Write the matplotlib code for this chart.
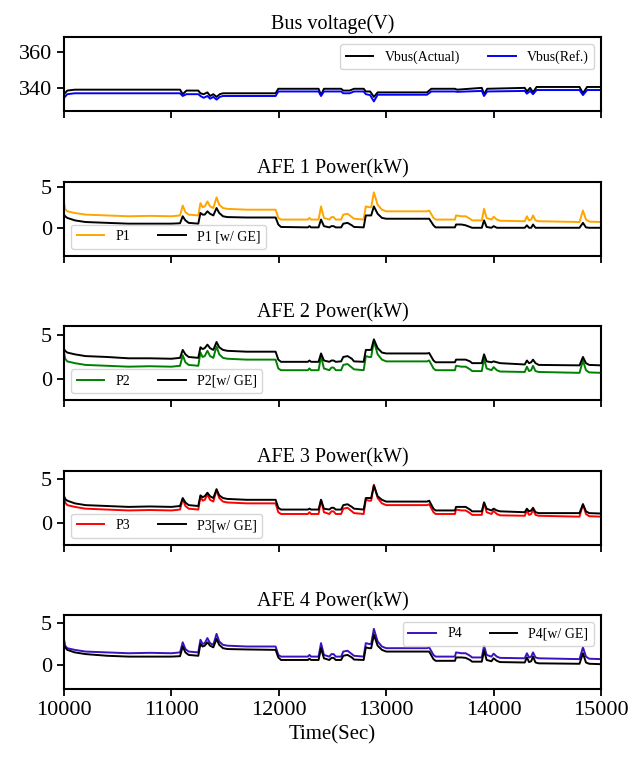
import matplotlib
matplotlib.use("Agg")
import matplotlib.pyplot as plt

plt.rcParams['font.family'] = ['Liberation Serif', 'DejaVu Serif']

# ---------------- data ----------------
tv = [10000, 10030, 10100, 10400, 11000, 11080, 11105, 11140, 11250, 11270,
      11300, 11335, 11360, 11390, 11420, 11450, 11480, 11970, 11995, 12370,
      12393, 12420, 12580, 12600, 12660, 12700, 12790, 12810, 12850, 12885,
      12920, 13380, 13420, 13640, 13660, 13890, 13911, 13940, 14290, 14310,
      14340, 14367, 14400, 14800, 14832, 14870, 15000]
vbus_actual = [336.5, 338.5, 339, 339, 339, 339, 336.5, 338.5, 338.5, 337,
               336.5, 337.5, 335.5, 336.5, 335, 336.5, 337, 337, 339.5, 339.5,
               336, 339.5, 339.5, 338.5, 338.5, 339.5, 339.5, 338, 338, 335,
               337.5, 337.5, 339.5, 339.5, 339, 340, 336.5, 339.5, 340, 338,
               340, 337.5, 340.5, 340.5, 337, 340.5, 340.5]
vbus_ref = [334.5, 336.5, 337, 337, 337, 337, 335.5, 336.5, 336.5, 335.5,
            334.5, 335.5, 334, 335, 333.5, 335, 335.5, 335.5, 338, 338,
            335.5, 338, 338, 337, 337, 338, 338, 336.5, 336, 332.5,
            336.2, 336.2, 338, 338, 337.8, 338.3, 335.5, 338, 338.3, 336.8,
            338.3, 336.5, 338.8, 338.8, 336, 338.8, 338.8]

t_pts = [10000, 10010, 10030, 10100, 10200, 10400, 10600, 10800, 11000, 11080,
         11105, 11130, 11160, 11250, 11270, 11290, 11310, 11335, 11360, 11390,
         11420, 11445, 11480, 11520, 11700, 11970, 11995, 12020, 12270, 12285,
         12300, 12370, 12393, 12420, 12470, 12490, 12510, 12530, 12580, 12600,
         12640, 12680, 12700, 12790, 12810, 12840, 12860, 12885, 12920, 12960,
         13000, 13380, 13400, 13440, 13460, 13640, 13650, 13700, 13740, 13780,
         13800, 13890, 13911, 13935, 13980, 14000, 14030, 14060, 14290, 14310,
         14330, 14350, 14367, 14390, 14420, 14800, 14832, 14860, 14890, 15000]

p_load = [3.0, 2.3, 2.0, 1.8, 1.6, 1.5, 1.4, 1.45, 1.4, 1.5,
          2.7, 1.9, 1.6, 1.5, 3.0, 2.5, 2.6, 3.2, 2.6, 2.4,
          3.7, 2.8, 2.4, 2.3, 2.2, 2.2, 1.2, 1.0, 1.0, 1.2,
          1.0, 1.0, 2.6, 1.2, 1.0, 1.3, 1.3, 1.0, 1.0, 1.6,
          1.7, 1.3, 1.1, 1.0, 2.6, 2.5, 2.5, 4.3, 2.8, 2.2,
          2.0, 2.0, 2.1, 1.2, 1.0, 1.0, 1.5, 1.4, 1.4, 1.1,
          0.9, 0.9, 2.3, 1.2, 1.0, 1.35, 1.0, 0.85, 0.8, 1.4,
          0.9, 1.0, 1.5, 0.9, 0.8, 0.7, 2.1, 1.0, 0.75, 0.7]

p1_ge = [1.6, 1.4, 1.2, 0.9, 0.7, 0.6, 0.5, 0.5, 0.5, 0.55,
         1.4, 0.9, 0.6, 0.5, 1.8, 1.6, 1.6, 2.0, 1.7, 1.5,
         2.4, 1.8, 1.4, 1.3, 1.25, 1.25, 0.4, 0.1, 0.05, 0.2,
         0.05, 0.05, 1.0, 0.2, 0.05, 0.2, 0.2, 0.05, 0.05, 0.5,
         0.6, 0.3, 0.1, 0.05, 1.5, 1.5, 1.5, 2.6, 1.7, 1.2,
         1.1, 1.1, 1.1, 0.3, 0.05, 0.05, 0.4, 0.4, 0.3, 0.1,
         0.0, 0.0, 0.9, 0.1, 0.0, 0.2, 0.0, 0.0, 0.0, 0.3,
         0.0, 0.0, 0.4, 0.0, 0.0, 0.0, 0.6, 0.05, 0.0, 0.0]

p2_ge = [3.4, 3.2, 3.0, 2.8, 2.6, 2.5, 2.35, 2.35, 2.3, 2.4,
         3.3, 2.8, 2.5, 2.4, 3.6, 3.4, 3.5, 3.9, 3.5, 3.3,
         4.2, 3.6, 3.3, 3.2, 3.1, 3.1, 2.2, 1.95, 1.95, 2.1,
         1.95, 1.95, 2.9, 2.1, 1.95, 2.1, 2.1, 1.95, 2.0, 2.5,
         2.6, 2.3, 2.0, 1.95, 3.3, 3.3, 3.3, 4.5, 3.5, 3.0,
         2.9, 2.9, 2.95, 2.1, 1.9, 1.9, 2.2, 2.2, 2.2, 2.0,
         1.8, 1.8, 2.8, 2.0, 1.9, 2.0, 1.9, 1.8, 1.65, 2.1,
         1.8, 1.9, 2.2, 1.8, 1.6, 1.55, 2.5, 1.8, 1.6, 1.55]

p3_ge = [3.0, 2.7, 2.5, 2.2, 2.0, 1.9, 1.8, 1.85, 1.8, 1.9,
         2.8, 2.3, 2.0, 1.9, 3.1, 2.9, 3.0, 3.4, 3.0, 2.8,
         3.8, 3.1, 2.8, 2.7, 2.6, 2.6, 1.7, 1.5, 1.5, 1.6,
         1.5, 1.5, 2.6, 1.6, 1.5, 1.7, 1.7, 1.5, 1.5, 2.0,
         2.1, 1.8, 1.6, 1.5, 2.8, 2.8, 2.8, 4.2, 3.0, 2.6,
         2.4, 2.4, 2.5, 1.6, 1.4, 1.4, 1.8, 1.8, 1.8, 1.5,
         1.3, 1.3, 2.3, 1.6, 1.4, 1.6, 1.4, 1.3, 1.2, 1.6,
         1.3, 1.4, 1.7, 1.2, 1.1, 1.1, 2.1, 1.3, 1.1, 1.05]

p4_ge = [2.3, 2.1, 1.8, 1.5, 1.3, 1.1, 1.0, 1.0, 1.0, 1.05,
         2.2, 1.5, 1.2, 1.1, 2.5, 2.2, 2.3, 2.7, 2.3, 2.1,
         3.1, 2.4, 2.0, 1.9, 1.85, 1.8, 0.9, 0.6, 0.6, 0.75,
         0.6, 0.6, 2.0, 0.8, 0.6, 0.85, 0.85, 0.6, 0.6, 1.1,
         1.2, 0.9, 0.65, 0.6, 2.1, 2.0, 2.0, 3.6, 2.3, 1.8,
         1.6, 1.6, 1.6, 0.7, 0.5, 0.5, 0.9, 0.9, 0.85, 0.6,
         0.4, 0.4, 1.7, 0.6, 0.45, 0.8, 0.5, 0.35, 0.3, 0.9,
         0.35, 0.45, 1.0, 0.3, 0.2, 0.15, 1.4, 0.3, 0.15, 0.1]

titles = ["Bus voltage(V)", "AFE 1 Power(kW)", "AFE 2 Power(kW)",
          "AFE 3 Power(kW)", "AFE 4 Power(kW)"]
x_ticks = [10000, 11000, 12000, 13000, 14000, 15000]

# ---------------- figure ----------------
fig, axes = plt.subplots(5, 1, figsize=(6.28, 7.61), dpi=100, sharex=True)
fig.subplots_adjust(left=0.102, right=0.957, top=0.951, bottom=0.0946, hspace=0.95)

lw = 1.4
ax = axes[0]
ax.plot(tv, vbus_actual, color='black', lw=lw, label='Vbus(Actual)')
ax.plot(tv, vbus_ref, color='blue', lw=lw, label='Vbus(Ref.)')
ax.set_ylim(327, 368)
ax.set_yticks([340, 360])
ax.legend(loc='upper right', ncol=2, fontsize=10)

panels = [
    (axes[1], 'orange', 'P1', p1_ge, 'P1 [w/ GE]', 'lower left', (-3.4, 5.6)),
    (axes[2], 'green', 'P2', p2_ge, 'P2[w/ GE]', 'lower left', (-2.4, 6.0)),
    (axes[3], 'red', 'P3', p3_ge, 'P3[w/ GE]', 'lower left', (-2.45, 5.9)),
    (axes[4], '#3d10c0', 'P4', p4_ge, 'P4[w/ GE]', 'upper right', (-2.85, 5.95)),
]
for ax, col, lab, ge, ge_lab, loc, yl in panels:
    ax.plot(t_pts, p_load, color=col, lw=lw, label=lab)
    ax.plot(t_pts, ge, color='black', lw=lw, label=ge_lab)
    ax.set_ylim(*yl)
    ax.set_yticks([0, 5])
    ax.legend(loc=loc, ncol=2, fontsize=10)

for ax, title in zip(axes, titles):
    ax.set_title(title, fontsize=14.5)
    ax.set_xlim(10000, 15000)
    ax.set_xticks(x_ticks)
    ax.tick_params(axis='both', labelsize=16, length=5, width=1.3)
    for sp in ax.spines.values():
        sp.set_linewidth(1.5)

axes[-1].set_xlabel("Time(Sec)", fontsize=15)

fig.savefig("out.png", dpi=100)
